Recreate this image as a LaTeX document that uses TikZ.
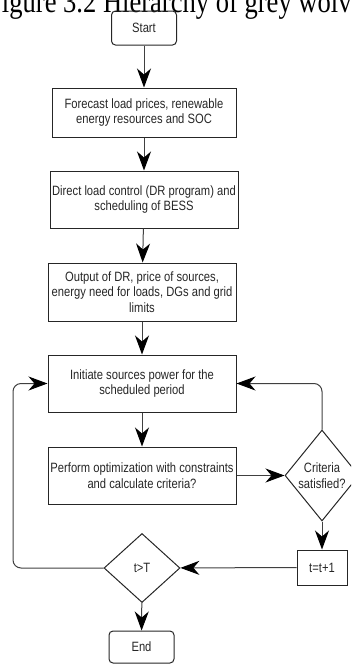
\documentclass[tikz,border=0pt]{standalone}
\usepackage{fontspec}
\setmainfont{Liberation Sans}[FakeStretch=0.83]
\newfontfamily\capfont{Liberation Serif}[FakeStretch=0.83]
\usetikzlibrary{shapes.geometric,arrows.meta}

\begin{document}
\begin{tikzpicture}[x=1pt,y=-1pt,>={Stealth[length=19pt,width=14pt,inset=6pt,black]},
    every node/.style={font=\fontsize{13.5}{15.5}\selectfont,text=black!85,align=center,inner sep=0pt},
    blk/.style={draw=black!85,line width=1pt,minimum width=188pt,minimum height=57pt},
    term/.style={draw=black!85,line width=1pt,rounded corners=4pt,minimum width=65pt,minimum height=34pt},
    dec/.style={draw=black!85,line width=1pt,diamond},
    flow/.style={draw=black!75,line width=1pt,->}]
\clip (0,0) rectangle (351,664);
\node[font=\capfont\fontsize{32}{32}\selectfont,text=black,anchor=base west] (cap) at (-13,12) {Figure 3.2 Hierarchy of grey wolves};

\node[term] (start) at (144,28) {Start};
\node[blk,minimum width=184pt,minimum height=49pt] (b1) at (144,112.5) {Forecast load prices, renewable\\energy resources and SOC};
\node[blk] (b2) at (144,199.5) {Direct load control (DR program) and\\scheduling of BESS};
\node[blk,minimum height=58pt] (b3) at (142,292) {Output of DR, price of sources,\\energy need for loads, DGs and grid\\limits};
\node[blk] (b4) at (142,383.5) {Initiate sources power for the\\scheduled period};
\node[blk] (b5) at (142,475.5) {Perform optimization with constraints\\and calculate criteria?};
\node[dec,minimum width=74pt,minimum height=91pt] (crit) at (322,475.5) {Criteria\\satisfied?};
\node[blk,minimum width=50pt,minimum height=35pt] (tinc) at (322,567.5) {t=t+1};
\node[dec,minimum width=76pt,minimum height=69pt] (tgt) at (142,568) {t>T};
\node[term,minimum height=32pt] (stop) at (141.5,647) {End};
\coordinate (lp) at (13,568);

\draw[flow] (start) -- (b1);
\draw[flow] (b1) -- (b2);
\draw[flow] (b2) -- (b3);
\draw[flow] (b3) -- (b4);
\draw[flow] (b4) -- (b5);
\draw[flow] (b5) -- (crit);
\draw[flow,rounded corners=8pt] (crit.north) |- (b4.east);
\draw[flow] (crit) -- (tinc);
\draw[flow] (tinc) -- (tgt);
\draw[flow,rounded corners=8pt] (tgt.west) -- (lp) |- (b4.west);
\draw[flow] (tgt) -- (stop);
\end{tikzpicture}
\end{document}
